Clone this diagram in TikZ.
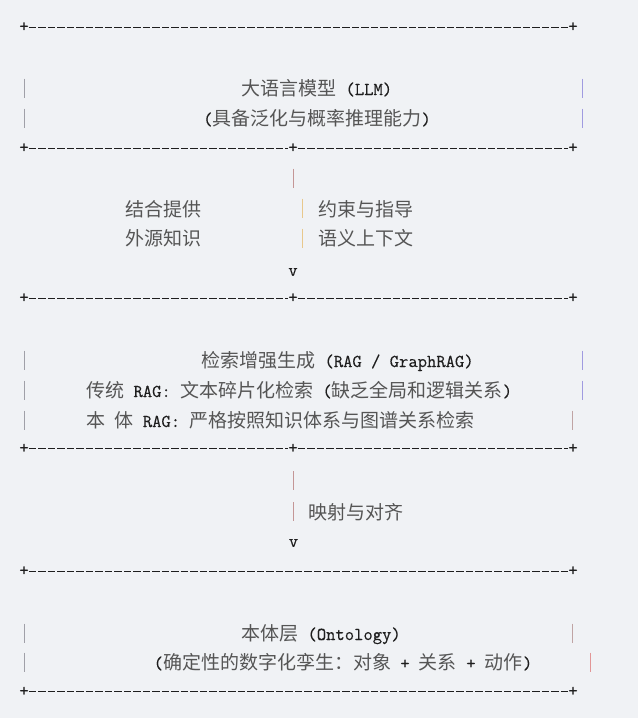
\documentclass[tikz,border=0pt]{standalone}
\usepackage{fontspec}
\newfontfamily\zhfont{Noto Sans CJK SC}
\newfontfamily\enmono{Latin Modern Mono}[FakeBold=0.3]
\usepackage{tikz}

\definecolor{bg}{RGB}{240,242,245}
\definecolor{engray}{RGB}{30,30,30}
\definecolor{zhgray}{RGB}{85,85,85}
\definecolor{lgray}{RGB}{160,160,168}
\definecolor{lav}{RGB}{160,155,224}
\definecolor{dust}{RGB}{192,164,164}
\definecolor{pink}{RGB}{196,150,150}
\definecolor{tan}{RGB}{232,200,140}
\definecolor{rose}{RGB}{226,150,150}

\newcommand\zh[1]{{\fontsize{19}{20}\zhfont\color{zhgray}#1}}

\tikzset{
  txt/.style={anchor=base west, inner sep=0pt, text=engray, font=\fontsize{18.1}{20}\enmono},
  plusnode/.style={inner sep=0pt, text=engray, font=\fontsize{18.1}{20}\enmono},
  rule/.style={draw=engray, line width=1pt, dash pattern=on 7.2pt off 2.3pt},
  pipe/.style={draw=#1, line width=0.8pt}
}

\begin{document}
\begin{tikzpicture}[x=1pt,y=-1pt]
  \fill[bg] (0,0) rectangle (638,718);
  \useasboundingbox (0,0) rectangle (638,718);

  % +----+ lines
  \foreach \n/\y in {a/27, e/571, f/691.5} {
    \node[plusnode] (\n l) at (24,\y) {+};
    \node[plusnode] (\n r) at (573,\y) {+};
    \draw[rule] (\n l) -- (\n r);
  }
  \foreach \n/\y in {b/148, c/298, d/448.5} {
    \node[plusnode] (\n l) at (24,\y) {+};
    \node[plusnode] (\n m) at (293,\y) {+};
    \node[plusnode] (\n r) at (573,\y) {+};
    \draw[rule] (\n l) -- (\n m) -- (\n r);
  }

  % side bars
  \foreach \x/\y/\c in {24.5/88/lgray, 24.5/118/lgray, 582/88/lav, 582/118/lav,
      24.5/360/lgray, 24.5/390/lgray, 24.5/420/lgray, 582/360/lav, 582/390/lav, 572.5/420/dust,
      24.5/633/lgray, 24.5/662/lgray, 572.5/633/dust, 590.5/662/rose,
      293/178/pink, 302.7/208/tan, 302.7/238/tan, 293.5/480.5/pink, 293.5/511.5/pink}
    \draw[pipe=\c] (\x,\y-9.5) -- (\x,\y+9.5);

  % LLM
  \node[txt] (llm) at (241,95) {\zh{大语言模型} (LLM)};
  \node[txt] (llmsub) at (203,125) {(\zh{具备泛化与概率推理能力})};

  % between LLM and RAG
  \node[txt] (jh1) at (125,216) {\zh{结合提供}};
  \node[txt] (jh2) at (125,245) {\zh{外源知识}};
  \node[txt] (ys1) at (318,216) {\zh{约束与指导}};
  \node[txt] (ys2) at (318,245) {\zh{语义上下文}};
  \node[plusnode] (v1) at (293,272) {v};

  % RAG
  \node[txt] (rag) at (201,367) {\zh{检索增强生成} (RAG / GraphRAG)};
  \node[txt] (rag1) at (86,397) {\zh{传统} RAG: \zh{文本碎片化检索} (\zh{缺乏全局和逻辑关系})};
  \node[txt] (rag2) at (86,427) {\zh{本} \zh{体} RAG: \zh{严格按照知识体系与图谱关系检索}};

  % between RAG and Ontology
  \node[txt] (map) at (308,519) {\zh{映射与对齐}};
  \node[plusnode] (v2) at (293.5,543) {v};

  % Ontology
  \node[txt] (onto) at (241,640) {\zh{本体层} (Ontology)};
  \node[txt] (onto2) at (153.5,669) {(\zh{确定性的数字化孪生：对象} + \zh{关系} + \zh{动作})};
\end{tikzpicture}
\end{document}
